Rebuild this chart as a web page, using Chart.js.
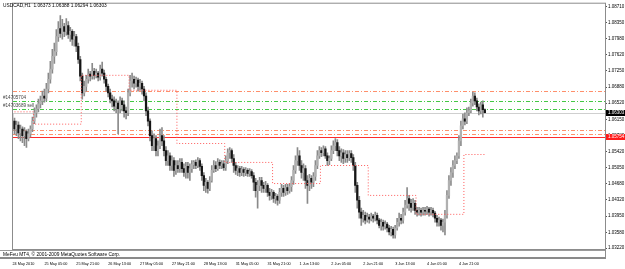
<!DOCTYPE html>
<html><head><meta charset="utf-8">
<script src="https://cdn.jsdelivr.net/npm/chart.js@4.4.1/dist/chart.umd.min.js"></script>
<style>html,body{margin:0;padding:0;background:#fff;overflow:hidden}canvas{display:block}</style>
</head><body>
<canvas id="c" width="625" height="269"></canvas>
<script>
const headerText = "USDCAD,H1  1.06373 1.06388 1.06294 1.06303";
const copyrightText = "MeFeu MT4, \u00a9 2001-2009 MetaQuotes Software Corp.";

const opens = [
1.0600,1.0611,1.0593,1.0602,1.0584,1.0593,1.0578,1.0587,1.0571,1.0582,
1.0593,1.0611,1.0630,1.0639,1.0650,1.0657,1.0668,1.0663,1.0684,1.0706,
1.0729,1.0758,1.0769,1.0803,1.0821,1.0810,1.0826,1.0815,1.0828,1.0808,
1.0815,1.0797,1.0803,1.0781,1.0751,1.0713,1.0675,1.0690,1.0706,1.0718,
1.0713,1.0724,1.0715,1.0720,1.0711,1.0729,1.0720,1.0706,1.0690,1.0675,
1.0661,1.0657,1.0645,1.0652,1.0639,1.0657,1.0648,1.0634,1.0630,1.0675,
1.0702,1.0706,1.0697,1.0704,1.0690,1.0697,1.0684,1.0668,1.0634,1.0611,
1.0578,1.0555,1.0571,1.0544,1.0555,1.0578,1.0566,1.0544,1.0521,1.0532,
1.0510,1.0521,1.0499,1.0510,1.0503,1.0517,1.0503,1.0494,1.0508,1.0494,
1.0503,1.0512,1.0517,1.0510,1.0521,1.0508,1.0487,1.0465,1.0472,1.0458,
1.0476,1.0499,1.0510,1.0503,1.0517,1.0510,1.0514,1.0505,1.0521,1.0539,
1.0544,1.0526,1.0510,1.0499,1.0503,1.0494,1.0501,1.0494,1.0499,1.0492,
1.0496,1.0487,1.0472,1.0453,1.0465,1.0476,1.0465,1.0458,1.0465,1.0449,
1.0442,1.0449,1.0435,1.0440,1.0431,1.0449,1.0458,1.0449,1.0460,1.0453,
1.0462,1.0476,1.0499,1.0521,1.0532,1.0510,1.0494,1.0503,1.0476,1.0465,
1.0481,1.0472,1.0485,1.0510,1.0532,1.0544,1.0539,1.0548,1.0532,1.0521,
1.0526,1.0544,1.0555,1.0562,1.0544,1.0532,1.0539,1.0526,1.0535,1.0528,
1.0537,1.0528,1.0510,1.0465,1.0431,1.0404,1.0390,1.0397,1.0386,1.0393,
1.0388,1.0395,1.0390,1.0397,1.0386,1.0374,1.0381,1.0372,1.0377,1.0368,
1.0359,1.0365,1.0352,1.0368,1.0381,1.0390,1.0386,1.0404,1.0420,1.0435,
1.0424,1.0415,1.0424,1.0408,1.0404,1.0408,1.0404,1.0408,1.0406,1.0411,
1.0404,1.0408,1.0402,1.0390,1.0381,1.0386,1.0374,1.0381,1.0397,1.0442,
1.0476,1.0494,1.0510,1.0521,1.0532,1.0566,1.0600,1.0616,1.0611,1.0630,
1.0634,1.0652,1.0668,1.0657,1.0643,1.0634,1.0648,1.06373];

const highs = [
1.0627,1.0618,1.0611,1.0609,1.0602,1.0598,1.0596,1.0591,1.0593,1.0600,
1.0620,1.0641,1.0648,1.0661,1.0668,1.0679,1.0684,1.0697,1.0720,1.0747,
1.0774,1.0788,1.0819,1.0837,1.0851,1.0842,1.0833,1.0844,1.0837,1.0824,
1.0819,1.0815,1.0808,1.0788,1.0758,1.0720,1.0702,1.0715,1.0729,1.0724,
1.0742,1.0731,1.0729,1.0724,1.0738,1.0745,1.0727,1.0711,1.0695,1.0684,
1.0670,1.0666,1.0661,1.0657,1.0666,1.0663,1.0657,1.0643,1.0684,1.0715,
1.0720,1.0713,1.0711,1.0709,1.0706,1.0702,1.0690,1.0675,1.0643,1.0616,
1.0589,1.0582,1.0578,1.0566,1.0593,1.0596,1.0578,1.0553,1.0544,1.0539,
1.0532,1.0528,1.0521,1.0521,1.0526,1.0526,1.0514,1.0517,1.0517,1.0514,
1.0521,1.0521,1.0523,1.0528,1.0526,1.0514,1.0494,1.0481,1.0476,1.0485,
1.0510,1.0521,1.0519,1.0526,1.0523,1.0521,1.0521,1.0532,1.0548,1.0551,
1.0548,1.0535,1.0517,1.0510,1.0508,1.0508,1.0505,1.0505,1.0503,1.0503,
1.0501,1.0494,1.0481,1.0476,1.0483,1.0483,1.0472,1.0474,1.0469,1.0458,
1.0456,1.0453,1.0447,1.0444,1.0458,1.0467,1.0465,1.0467,1.0467,1.0469,
1.0485,1.0510,1.0532,1.0551,1.0544,1.0521,1.0514,1.0510,1.0487,1.0490,
1.0487,1.0494,1.0521,1.0544,1.0553,1.0551,1.0555,1.0553,1.0539,1.0532,
1.0555,1.0566,1.0571,1.0569,1.0553,1.0548,1.0546,1.0544,1.0544,1.0544,
1.0544,1.0535,1.0517,1.0472,1.0440,1.0413,1.0408,1.0404,1.0402,1.0399,
1.0402,1.0399,1.0404,1.0402,1.0390,1.0388,1.0386,1.0384,1.0381,1.0374,
1.0372,1.0370,1.0374,1.0390,1.0402,1.0399,1.0413,1.0431,1.0460,1.0442,
1.0433,1.0435,1.0431,1.0415,1.0415,1.0413,1.0415,1.0415,1.0417,1.0415,
1.0415,1.0413,1.0406,1.0397,1.0393,1.0390,1.0388,1.0408,1.0453,1.0487,
1.0505,1.0521,1.0532,1.0539,1.0578,1.0611,1.0627,1.0630,1.0641,1.0643,
1.0661,1.0677,1.0675,1.0663,1.0650,1.0654,1.0657,1.06388];

const lows = [
1.0589,1.0582,1.0578,1.0571,1.0566,1.0562,1.0555,1.0551,1.0566,1.0575,
1.0587,1.0605,1.0620,1.0632,1.0641,1.0648,1.0654,1.0657,1.0675,1.0697,
1.0720,1.0742,1.0760,1.0792,1.0801,1.0797,1.0803,1.0806,1.0799,1.0792,
1.0783,1.0781,1.0769,1.0742,1.0702,1.0661,1.0668,1.0679,1.0697,1.0702,
1.0706,1.0706,1.0709,1.0702,1.0704,1.0713,1.0697,1.0679,1.0666,1.0652,
1.0643,1.0634,1.0630,1.0582,1.0630,1.0634,1.0620,1.0616,1.0623,1.0668,
1.0688,1.0684,1.0688,1.0679,1.0681,1.0672,1.0657,1.0623,1.0600,1.0566,
1.0544,1.0544,1.0532,1.0532,1.0548,1.0555,1.0532,1.0510,1.0510,1.0499,
1.0499,1.0485,1.0490,1.0494,1.0494,1.0494,1.0485,1.0481,1.0481,1.0476,
1.0494,1.0503,1.0503,1.0505,1.0499,1.0476,1.0453,1.0449,1.0447,1.0453,
1.0472,1.0494,1.0496,1.0499,1.0503,1.0503,1.0499,1.0499,1.0514,1.0526,
1.0517,1.0494,1.0490,1.0487,1.0485,1.0487,1.0485,1.0487,1.0485,1.0485,
1.0481,1.0453,1.0438,1.0413,1.0453,1.0449,1.0449,1.0449,1.0440,1.0431,
1.0433,1.0426,1.0424,1.0420,1.0424,1.0440,1.0440,1.0442,1.0444,1.0447,
1.0451,1.0467,1.0492,1.0510,1.0499,1.0481,1.0476,1.0458,1.0424,1.0453,
1.0458,1.0462,1.0476,1.0503,1.0526,1.0530,1.0532,1.0526,1.0510,1.0512,
1.0521,1.0537,1.0544,1.0532,1.0521,1.0517,1.0514,1.0517,1.0517,1.0521,
1.0517,1.0499,1.0449,1.0413,1.0390,1.0374,1.0381,1.0377,1.0381,1.0379,
1.0384,1.0381,1.0384,1.0377,1.0368,1.0363,1.0363,1.0365,1.0359,1.0352,
1.0350,1.0345,1.0345,1.0363,1.0372,1.0377,1.0379,1.0397,1.0413,1.0408,
1.0404,1.0408,1.0399,1.0395,1.0397,1.0395,1.0397,1.0397,1.0399,1.0395,
1.0397,1.0393,1.0381,1.0372,1.0372,1.0363,1.0359,1.0352,1.0390,1.0435,
1.0465,1.0483,1.0503,1.0514,1.0526,1.0555,1.0593,1.0602,1.0605,1.0623,
1.0630,1.0645,1.0648,1.0634,1.0625,1.0627,1.0620,1.06294];

const closes = [
1.0611,1.0593,1.0602,1.0584,1.0593,1.0578,1.0587,1.0571,1.0582,1.0593,
1.0611,1.0630,1.0639,1.0650,1.0657,1.0668,1.0663,1.0684,1.0706,1.0729,
1.0758,1.0769,1.0803,1.0821,1.0810,1.0826,1.0815,1.0828,1.0808,1.0815,
1.0797,1.0803,1.0781,1.0751,1.0713,1.0675,1.0690,1.0706,1.0718,1.0713,
1.0724,1.0715,1.0720,1.0711,1.0729,1.0720,1.0706,1.0690,1.0675,1.0661,
1.0657,1.0645,1.0652,1.0639,1.0657,1.0648,1.0634,1.0630,1.0675,1.0702,
1.0706,1.0697,1.0704,1.0690,1.0697,1.0684,1.0668,1.0634,1.0611,1.0578,
1.0555,1.0571,1.0544,1.0555,1.0578,1.0566,1.0544,1.0521,1.0532,1.0510,
1.0521,1.0499,1.0510,1.0503,1.0517,1.0503,1.0494,1.0508,1.0494,1.0503,
1.0512,1.0517,1.0510,1.0521,1.0508,1.0487,1.0465,1.0472,1.0458,1.0476,
1.0499,1.0510,1.0503,1.0517,1.0510,1.0514,1.0505,1.0521,1.0539,1.0544,
1.0526,1.0510,1.0499,1.0503,1.0494,1.0501,1.0494,1.0499,1.0492,1.0496,
1.0487,1.0472,1.0453,1.0465,1.0476,1.0465,1.0458,1.0465,1.0449,1.0442,
1.0449,1.0435,1.0440,1.0431,1.0449,1.0458,1.0449,1.0460,1.0453,1.0462,
1.0476,1.0499,1.0521,1.0532,1.0510,1.0494,1.0503,1.0476,1.0465,1.0481,
1.0472,1.0485,1.0510,1.0532,1.0544,1.0539,1.0548,1.0532,1.0521,1.0526,
1.0544,1.0555,1.0562,1.0544,1.0532,1.0539,1.0526,1.0535,1.0528,1.0537,
1.0528,1.0510,1.0465,1.0431,1.0404,1.0390,1.0397,1.0386,1.0393,1.0388,
1.0395,1.0390,1.0397,1.0386,1.0374,1.0381,1.0372,1.0377,1.0368,1.0359,
1.0365,1.0352,1.0368,1.0381,1.0390,1.0386,1.0404,1.0420,1.0435,1.0424,
1.0415,1.0424,1.0408,1.0404,1.0408,1.0404,1.0408,1.0406,1.0411,1.0404,
1.0408,1.0402,1.0390,1.0381,1.0386,1.0374,1.0381,1.0397,1.0442,1.0476,
1.0494,1.0510,1.0521,1.0532,1.0566,1.0600,1.0616,1.0611,1.0630,1.0634,
1.0652,1.0668,1.0657,1.0643,1.0634,1.0648,1.0637,1.06303];

const dateTickBars = [0,16,32,48,64,80,96,112,128,144,160,176,192,208,224];
const dateTickLabels = ["24 May 2010","25 May 05:00","25 May 21:00","26 May 13:00","27 May 05:00","27 May 21:00","28 May 13:00","31 May 05:00","31 May 21:00","1 Jun 13:00","2 Jun 05:00","2 Jun 21:00","3 Jun 13:00","4 Jun 05:00","4 Jun 21:00"];
const priceTicks = [1.08710,1.08350,1.07980,1.07620,1.07250,1.06880,1.06520,1.06150,1.05780,1.05420,1.05050,1.04680,1.04320,1.03950,1.03580,1.03220];

const stepDayStartBars = [0,11,35,59,83,107,131,155,179,203,227];
const stepLevels = [1.0632,1.0604,1.0715,1.0681,1.0560,1.0517,1.0469,1.0510,1.0442,1.0399,1.0535];

const stopLevels = [1.06803,1.05911,1.05820];
const orderLevels = [1.06555,1.06374];
const orderLabels = ["#14705704","#14703689 sell"];
const bidPrice = 1.06303;
const alertLevel = 1.05754;

const FONT = "'Liberation Sans', Arial, sans-serif";
const n = closes.length;
const wickData = lows.map((l,i)=>({x:i, y:[l, highs[i]]}));
const bodyData = opens.map((o,i)=>({x:i, y:[o, closes[i]]}));
const bodyColors = opens.map((o,i)=> closes[i] >= o ? '#b0b0b0' : '#151515');
const stepData = stepDayStartBars.map((b,k)=>({x:b-0.5, y:stepLevels[k]}));
stepData.push({x:n-0.5, y:stepLevels[stepLevels.length-1]});

const mt4Plugin = {
  id:'mt4',
  beforeDatasetsDraw(chart){
    const {ctx, chartArea:a, scales:{y}} = chart;
    ctx.save();
    ctx.beginPath(); ctx.rect(a.left,a.top,a.right-a.left,a.bottom-a.top); ctx.clip();
    const line=(v,color,dash)=>{
      const py=Math.round(y.getPixelForValue(v))+0.5;
      ctx.strokeStyle=color; ctx.lineWidth=1; ctx.setLineDash(dash);
      ctx.beginPath(); ctx.moveTo(a.left,py); ctx.lineTo(a.right,py); ctx.stroke();
    };
    stopLevels.forEach(v=>line(v,'#ff8f6b',[4,2,1,2]));
    orderLevels.forEach(v=>line(v,'#44c844',[4,2,1,2]));
    line(bidPrice,'#cfcfcf',[]);
    line(alertLevel,'#ff2a2a',[]);
    ctx.restore();
  },
  afterDraw(chart){
    const {ctx, chartArea:a, scales:{y}} = chart;
    ctx.save();
    ctx.strokeStyle='#8c8c8c'; ctx.lineWidth=1; ctx.setLineDash([]);
    ctx.strokeRect(a.left-0.5, a.top-0.5, a.right-a.left+1, a.bottom-a.top+1);
    ctx.fillStyle='#000'; ctx.textBaseline='middle'; ctx.textAlign='left';
    ctx.font="4.8px "+FONT;
    ctx.fillText(headerText, 3, 6);
    ctx.fillStyle='#444';
    ctx.font="4.6px "+FONT;
    orderLevels.forEach((v,k)=>{
      const py=y.getPixelForValue(v);
      ctx.fillText(orderLabels[k], 3, py-4);
    });
    const box=(v,bg)=>{
      const py=Math.round(y.getPixelForValue(v));
      ctx.fillStyle=bg; ctx.fillRect(a.right+1, py-3, 20, 6);
      ctx.fillStyle='#fff'; ctx.font="4.5px "+FONT; ctx.textAlign='left';
      ctx.fillText(v.toFixed(5), a.right+3, py);
    };
    box(bidPrice,'#000000');
    box(alertLevel,'#ff1a1a');
    ctx.strokeStyle='#9a9a9a';
    ctx.beginPath(); ctx.moveTo(0,a.bottom+1.5); ctx.lineTo(a.right+1,a.bottom+1.5); ctx.stroke();
    ctx.fillStyle='#000'; ctx.font="4.8px "+FONT; ctx.textAlign='left';
    ctx.fillText(copyrightText, 3, a.bottom+5.5);
    ctx.fillStyle='#8a8a8a'; ctx.fillRect(0, a.bottom+8, a.right+1, 2);
    ctx.strokeStyle='#8c8c8c';
    ctx.beginPath(); ctx.moveTo(a.right+0.5,a.bottom); ctx.lineTo(a.right+0.5,a.bottom+10); ctx.stroke();
    ctx.restore();
  }
};

new Chart(document.getElementById('c'), {
  type:'bar',
  data:{datasets:[
    {type:'line', data:stepData, stepped:true, borderColor:'#ff5a5a', borderWidth:1, borderDash:[1,2], pointRadius:0, fill:false, order:0},
    {data:wickData, backgroundColor:'#8a8a8a', barThickness:1, grouped:false, order:2},
    {data:bodyData, backgroundColor:bodyColors, barThickness:1.6, grouped:false, minBarLength:1, order:1}
  ]},
  options:{
    responsive:false, animation:false, devicePixelRatio:1,
    layout:{padding:{top:2,left:2,right:0,bottom:0}},
    plugins:{legend:{display:false}, tooltip:{enabled:false}, title:{display:false}},
    scales:{
      x:{type:'linear', min:0.25, max:297.3, offset:false,
        grid:{display:false, drawTicks:false}, border:{display:false},
        afterFit(s){s.height=20;},
        afterBuildTicks(s){s.ticks=dateTickBars.map(v=>({value:v}));},
        ticks:{autoSkip:false, maxRotation:0, minRotation:0, align:'start', padding:12.5,
          font:{size:3.8, family:FONT}, color:'#000',
          callback(v){const k=dateTickBars.indexOf(v); return k>=0?dateTickLabels[k]:'';}}
      },
      y:{position:'right', min:1.03202, max:1.08778,
        grid:{drawOnChartArea:false, drawTicks:true, tickLength:2, color:'#555'},
        border:{display:true, color:'#8c8c8c'},
        afterFit(s){s.width=20;},
        afterBuildTicks(s){s.ticks=priceTicks.map(v=>({value:v}));},
        ticks:{autoSkip:false, padding:1, font:{size:4.5, family:FONT}, color:'#000',
          callback(v){return Number(v).toFixed(5);}}
      }
    }
  },
  plugins:[mt4Plugin]
});
</script>
</body></html>
